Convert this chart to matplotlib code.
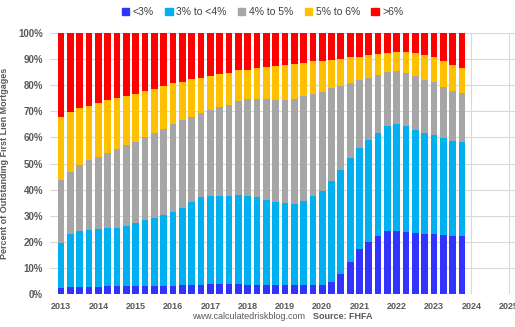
import numpy as np
import matplotlib
matplotlib.use("Agg")
import matplotlib.pyplot as plt
from matplotlib.patches import Patch

plt.rcParams["font.family"] = ["Liberation Sans", "DejaVu Sans"]

# quarterly, 2013 Q1 .. 2023 Q4
first_year = 2013
n_quarters = 44
year_ticks = list(range(2013, 2026))

labels = ["<3%", "3% to <4%", "4% to 5%", "5% to 6%", ">6%"]
colors = ["#3333FF", "#00B0F0", "#A6A6A6", "#FFC000", "#FF0000"]

lt3 = [2.2, 2.6, 2.8, 2.8, 2.8, 2.9, 2.9, 2.9, 3.0, 3.0, 3.1, 3.1, 3.2, 3.3, 3.4,
       3.6, 3.7, 3.7, 3.7, 3.7, 3.6, 3.5, 3.4, 3.4, 3.3, 3.3, 3.3, 3.3, 3.4, 4.5,
       7.7, 12.4, 17.4, 20.0, 22.4, 24.0, 24.2, 23.7, 23.5, 23.1, 22.8, 22.6, 22.1, 22.1]
r3_4 = [17.4, 20.5, 21.3, 21.7, 22.1, 22.2, 22.5, 23.1, 24.3, 25.5, 26.0, 27.0, 28.1,
        29.6, 31.9, 33.6, 33.7, 33.7, 34.0, 34.4, 34.1, 33.5, 32.8, 31.9, 31.6, 31.2,
        32.2, 34.1, 36.0, 38.8, 39.9, 39.6, 38.7, 39.0, 39.4, 40.4, 41.0, 40.7, 39.4,
        38.7, 38.0, 37.2, 36.4, 36.1]
r4_5 = [24.2, 23.8, 25.2, 26.9, 27.7, 29.1, 30.0, 30.9, 31.1, 31.5, 32.4, 33.3, 33.7,
        33.6, 32.6, 32.0, 33.1, 34.1, 34.8, 35.7, 36.9, 37.7, 38.6, 39.0, 39.3, 40.3,
        40.2, 39.2, 38.1, 35.5, 32.2, 28.9, 26.0, 23.9, 22.1, 20.7, 20.4, 20.4, 20.5,
        20.2, 20.3, 19.6, 19.2, 18.8]
r5_6 = [24.0, 22.7, 21.8, 20.7, 20.4, 20.1, 19.7, 18.9, 18.3, 17.6, 16.9, 16.4, 15.7,
        14.8, 14.3, 13.7, 13.1, 12.9, 12.3, 11.9, 11.3, 11.9, 12.2, 13.0, 13.4, 13.3,
        12.9, 12.5, 11.9, 11.0, 10.4, 9.8, 8.9, 8.6, 7.9, 7.3, 7.0, 8.1, 8.9, 9.5,
        9.6, 9.9, 9.9, 9.6]
gt6 = [32.2, 30.4, 28.9, 27.9, 27.0, 25.7, 24.9, 24.2, 23.3, 22.4, 21.6, 20.2, 19.3,
       18.7, 17.8, 17.1, 16.4, 15.6, 15.2, 14.3, 14.1, 13.4, 13.0, 12.7, 12.4, 11.9,
       11.4, 10.9, 10.6, 10.2, 9.8, 9.3, 9.0, 8.5, 8.2, 7.6, 7.4, 7.1, 7.7, 8.5,
       9.3, 10.7, 12.4, 13.4]

series = [lt3, r3_4, r4_5, r5_6, gt6]
x = first_year + np.arange(n_quarters) * 0.25

text_col = "#595959"

fig = plt.figure(figsize=(5.15, 3.27), dpi=100)
ax = fig.add_axes([0.097, 0.101, 0.903, 0.798])

bottom = np.zeros(n_quarters)
for vals, c in zip(series, colors):
    ax.bar(x, vals, width=0.18, bottom=bottom, color=c, linewidth=0, zorder=3)
    bottom += np.array(vals)

ax.set_xlim(2012.7, 2025.17)
ax.set_ylim(0, 100)
ax.set_yticks(range(0, 101, 10))
ax.set_yticklabels([f"{v}%" for v in range(0, 101, 10)])
ax.set_xticks(year_ticks)
ax.set_xticklabels([str(y) for y in year_ticks])
ax.grid(True, color="#D9D9D9", linewidth=0.8, zorder=0)
for s in ax.spines.values():
    s.set_visible(False)
ax.tick_params(axis="y", length=0, labelsize=7, colors=text_col, pad=5)
ax.tick_params(axis="x", length=0, labelsize=6.5, colors=text_col, pad=6)
for t in ax.get_xticklabels() + ax.get_yticklabels():
    t.set_fontweight("bold")

ax.set_ylabel("Percent of Outstanding First Lien Mortgages", fontsize=6.5,
              color=text_col, fontweight="bold", labelpad=7)

handles = [Patch(color=c, label=l) for c, l in zip(colors, labels)]
fig.legend(handles=handles, loc="center", bbox_to_anchor=(0.51, 0.963), ncol=5,
           frameon=False, fontsize=7.5, handlelength=0.7, handleheight=0.7,
           handletextpad=0.35, columnspacing=1.1, labelcolor="#404040")

fig.text(0.592, 0.025, "www.calculatedriskblog.com", fontsize=6.5, color=text_col, ha="right")
fig.text(0.608, 0.025, "Source: FHFA", fontsize=6.5, color=text_col, ha="left",
         fontweight="bold")

fig.savefig("out.png", dpi=100)
